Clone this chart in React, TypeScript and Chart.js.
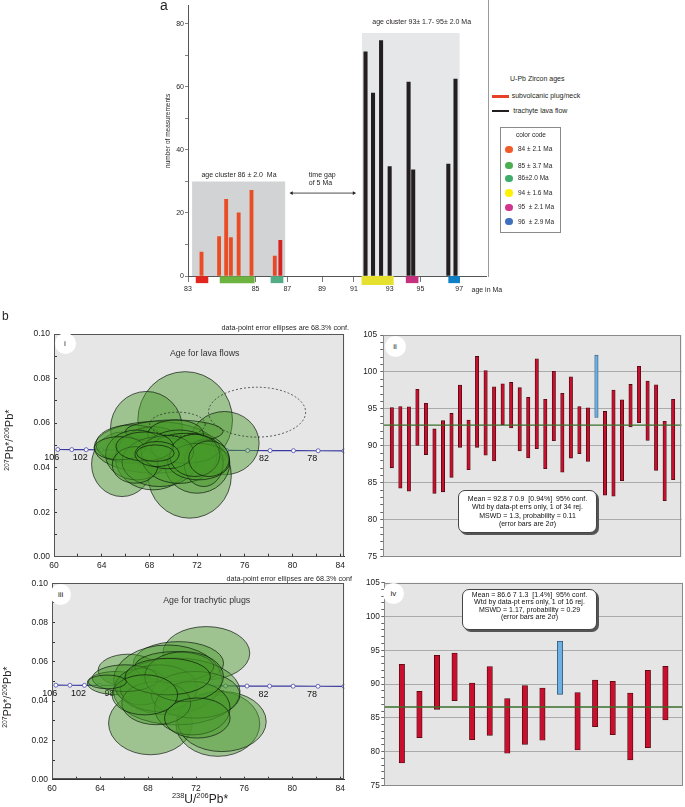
import React, { useEffect, useRef } from 'react';
import { Chart, registerables, LinearScale } from 'chart.js';

Chart.register(...registerables);
const FONT = '"Liberation Sans", Arial, Helvetica, sans-serif';
Chart.defaults.font.family = FONT;

// ================= panel a : histogram of U-Pb zircon ages =================
const A_TICKS = [83, 85, 87, 89, 91, 93, 95, 97];
// position of each printed tick along the drawn (non-uniform) axis, 0..1
const A_TICK_FRACTIONS = [0, 0.2267, 0.3333, 0.45, 0.5567, 0.6767, 0.78, 0.91];
const A_MIN = 83;
const A_MAX = 98.4;
const A_Y_TICKS = [0, 10, 20, 30, 40, 50, 60, 70, 80];

const PLUG_AGES = [83.4, 83.92, 84.13, 84.27, 84.5, 84.88, 86.21, 86.56];
const PLUG_COUNTS = [7.6, 12.5, 24.3, 12.2, 20.0, 27.2, 6.3, 11.3];
const LAVA_AGES = [91.65, 92.07, 92.52, 93.0, 94.23, 94.53, 96.44, 96.81];
const LAVA_COUNTS = [71.1, 58.0, 74.7, 34.7, 61.5, 33.7, 35.5, 62.5];

const CLUSTER_FROM = [83.12, 91.44];
const CLUSTER_TO = [86.88, 97.03];
const CLUSTER_TOP = [30, 77.1];

const CODE_FROM = [83.23, 83.94, 85.95, 91.43, 94.05, 96.44];
const CODE_TO = [83.6, 84.97, 86.75, 93.26, 94.87, 97.04];
const CODE_LABELS = ['84 \u00b1 2.1 Ma', '85 \u00b1 3.7 Ma', '86\u00b12.0 Ma', '94 \u00b1 1.6 Ma', '95  \u00b1 2.1 Ma', '96  \u00b1 2.9 Ma'];

const GAP_FROM = 87.25;
const GAP_TO = 91.0;
const GAP_LEVEL = 26.3;

// styles
const CODE_STRIP_COLORS = ['#e2261e', '#6cb33f', '#52ad84', '#e6e12e', '#c5307f', '#0e80c5'];
const CODE_DOT_COLORS = ['#f15a29', '#4cae4f', '#3eac6b', '#fff200', '#d3348d', '#3f6fbf'];
const PLUG_BAR_COLORS = ['#ea4d26', '#ea4d26', '#ea4d26', '#ea4d26', '#ea4d26', '#ea4d26', '#e8472a', '#d7231f'];

// ================= panels i & iii : Tera-Wasserburg concordia =================
const PB_X_TICKS = [60, 62, 64, 66, 68, 70, 72, 74, 76, 78, 80, 82, 84];
const PB_Y_TICKS = [0, 0.01, 0.02, 0.03, 0.04, 0.05, 0.06, 0.07, 0.08, 0.09, 0.1];
const CONC_AGES = [106, 104, 102, 100, 98, 96, 94, 92, 90, 88, 86, 84, 82, 80, 78, 76];
const CONC_X = [60.32, 61.49, 62.7, 63.96, 65.28, 66.65, 68.08, 69.57, 71.13, 72.75, 74.46, 76.24, 78.12, 80.08, 82.15, 84.32];
const CONC_Y = [0.04813, 0.04809, 0.04805, 0.04801, 0.04797, 0.04793, 0.04789, 0.04785, 0.04781, 0.04777, 0.04773, 0.04769, 0.04765, 0.04761, 0.04757, 0.04753];
const CONC_LABELED = [106, 102, 98, 94, 90, 86, 82, 78];

// i : lava flows (error ellipses: centre and semi-axes)
const I_EL_X = [71.0, 67.75, 74.3, 71.38, 65.7, 68.5, 66.52, 68.3, 72.0, 70.08, 70.2, 66.93, 68.85, 70.49, 72.55, 65.5, 71.04, 72.13, 66.8, 69.5, 71.8, 67.6, 73.0, 68.64, 68.5];
const I_EL_Y = [0.0614, 0.0577, 0.051, 0.0364, 0.0415, 0.0491, 0.0506, 0.0442, 0.042, 0.0562, 0.055, 0.0457, 0.0427, 0.0449, 0.042, 0.0487, 0.0487, 0.0427, 0.0412, 0.047, 0.0455, 0.0495, 0.044, 0.0461, 0.0465];
const I_EL_RX = [3.97, 3.01, 2.9, 3.49, 2.55, 5.14, 3.01, 3.15, 2.74, 4.1, 2.33, 2.6, 3.15, 3.15, 1.64, 2.12, 2.88, 2.6, 1.92, 2.2, 2.1, 2.4, 1.7, 1.85, 1.58];
const I_EL_RY = [0.0217, 0.0165, 0.0142, 0.0191, 0.0145, 0.0116, 0.0086, 0.0142, 0.0135, 0.0052, 0.0064, 0.0112, 0.0112, 0.012, 0.0105, 0.0052, 0.0067, 0.0082, 0.0082, 0.0075, 0.0095, 0.0065, 0.008, 0.0056, 0.0037];
const I_OPEN_X = [77.03, 70.35];
const I_OPEN_Y = [0.0649, 0.0595];
const I_OPEN_RX = [4.07, 2.33];
const I_OPEN_RY = [0.0112, 0.0054];

// iii : trachytic plugs
const III_EL_X = [72.85, 70.53, 66.33, 65.33, 68.2, 73.81, 74.15, 69.64, 70.39, 70.19, 67.45, 68.89, 71.96, 71.69, 68.68, 66.09, 71.0, 72.1, 69.64, 67.73, 64.6];
const III_EL_Y = [0.0644, 0.0593, 0.0557, 0.0492, 0.0288, 0.0284, 0.0296, 0.0508, 0.0449, 0.0576, 0.0474, 0.0466, 0.0432, 0.0364, 0.039, 0.0517, 0.0525, 0.0314, 0.0525, 0.0432, 0.0498];
const III_EL_RX = [3.62, 3.76, 2.49, 2.39, 3.49, 3.49, 3.69, 4.51, 5.27, 3.28, 2.19, 3.21, 3.69, 3.14, 2.87, 2.73, 3.28, 2.73, 3.55, 2.73, 1.6];
const III_EL_RY = [0.01356, 0.011, 0.0082, 0.0059, 0.0161, 0.0165, 0.0153, 0.0178, 0.017, 0.0076, 0.0093, 0.0119, 0.0119, 0.0136, 0.011, 0.0068, 0.0127, 0.0102, 0.0093, 0.0102, 0.0035];

// ================= panels ii & iv : weighted mean age plots =================
const AGE_Y_TICKS = [75, 76, 77, 78, 79, 80, 81, 82, 83, 84, 85, 86, 87, 88, 89, 90, 91, 92, 93, 94, 95, 96, 97, 98, 99, 100, 101, 102, 103, 104, 105];
const II_LOW = [87.03, 84.27, 83.87, 90.06, 88.82, 83.56, 83.78, 85.74, 89.8, 86.77, 89.8, 88.73, 87.97, 92.87, 92.43, 89.31, 88.37, 89.62, 86.9, 90.69, 86.45, 88.33, 88.95, 87.88, 93.85, 83.33, 83.2, 85.29, 92.56, 93.14, 90.73, 86.68, 82.57, 85.43];
const II_HIGH = [95.19, 95.33, 95.28, 97.64, 95.77, 92.29, 93.41, 94.39, 98.22, 93.5, 102.1, 100.19, 98.0, 98.4, 98.58, 97.87, 96.57, 101.79, 96.31, 100.1, 97.11, 99.34, 95.33, 95.15, 102.28, 94.66, 97.55, 96.22, 98.31, 100.76, 98.76, 98.27, 93.32, 96.31];
const II_REJECTED = 24;
const II_MEAN = 92.8;
const II_TEXT = ['Mean = 92.8 7 0.9  [0.94%]  95% conf.', 'Wtd by data-pt errs only, 1 of 34 rej.', 'MSWD = 1.3, probability = 0.11', '(error bars are 2\u03c3)'];

const IV_LOW = [78.31, 82.06, 86.25, 87.54, 81.76, 82.4, 79.74, 81.07, 81.67, 88.47, 80.23, 83.69, 82.5, 78.75, 80.58, 84.67];
const IV_HIGH = [92.91, 88.92, 94.25, 94.59, 90.15, 92.57, 87.83, 89.76, 89.41, 96.32, 88.72, 90.59, 90.4, 88.67, 92.03, 92.62];
const IV_REJECTED = 9;
const IV_MEAN = 86.6;
const IV_TEXT = ['Mean = 86.6 7 1.3  [1.4%]  95% conf.', 'Wtd by data-pt errs only, 1 of 16 rej.', 'MSWD = 1.17, probability = 0.29', '(error bars are 2\u03c3)'];

// ---------------- custom scale following the drawn age axis ----------------
const KNOT_V = [...A_TICKS, A_MAX];
const KNOT_F = [...A_TICK_FRACTIONS, 1];
function ageToFrac(v: number) {
  let i = 0;
  while (i < KNOT_V.length - 2 && v > KNOT_V[i + 1]) i++;
  return KNOT_F[i] + ((v - KNOT_V[i]) / (KNOT_V[i + 1] - KNOT_V[i])) * (KNOT_F[i + 1] - KNOT_F[i]);
}
function fracToAge(f: number) {
  let i = 0;
  while (i < KNOT_F.length - 2 && f > KNOT_F[i + 1]) i++;
  return KNOT_V[i] + ((f - KNOT_F[i]) / (KNOT_F[i + 1] - KNOT_F[i])) * (KNOT_V[i + 1] - KNOT_V[i]);
}
class CalibratedAgeScale extends (LinearScale as any) {
  static id = 'calibratedAge';
  static defaults = (LinearScale as any).defaults;
  getPixelForValue(value: number) {
    if (value === null || value === undefined || isNaN(value)) return NaN;
    return (this as any).getPixelForDecimal(ageToFrac(value));
  }
  getValueForPixel(pixel: number) {
    return fracToAge((this as any).getDecimalForPixel(pixel));
  }
}
Chart.register(CalibratedAgeScale as any);

// ---------------- plugins ----------------
function framePlugin(bg: string, stroke: string) {
  return {
    id: 'frame',
    beforeDraw(chart: any) {
      const { ctx, chartArea: a } = chart;
      ctx.save();
      ctx.fillStyle = bg;
      ctx.fillRect(a.left, a.top, a.right - a.left, a.bottom - a.top);
      ctx.restore();
    },
    afterDraw(chart: any) {
      const { ctx, chartArea: a } = chart;
      ctx.save();
      ctx.strokeStyle = stroke;
      ctx.lineWidth = 1;
      ctx.strokeRect(Math.round(a.left) + 0.5, Math.round(a.top) + 0.5, Math.round(a.right - a.left) - 1, Math.round(a.bottom - a.top) - 1);
      ctx.restore();
    },
  };
}

function ellipsePlugin(xs: number[], ys: number[], rxs: number[], rys: number[], ox: number[], oy: number[], orx: number[], ory: number[]) {
  return {
    id: 'ellipses',
    afterDatasetsDraw(chart: any) {
      const { ctx } = chart;
      const sx = chart.scales.x;
      const sy = chart.scales.y;
      ctx.save();
      const path = (x: number, y: number, rx: number, ry: number) => {
        const cx = sx.getPixelForValue(x);
        const cy = sy.getPixelForValue(y);
        const px = Math.abs(sx.getPixelForValue(x + rx) - cx);
        const py = Math.abs(sy.getPixelForValue(y + ry) - cy);
        ctx.beginPath();
        ctx.ellipse(cx, cy, px, py, 0, 0, Math.PI * 2);
      };
      xs.forEach((x, i) => {
        path(x, ys[i], rxs[i], rys[i]);
        ctx.fillStyle = 'rgba(72,152,42,0.45)';
        ctx.fill();
        ctx.strokeStyle = 'rgba(10,20,10,0.85)';
        ctx.lineWidth = 0.8;
        ctx.stroke();
      });
      ctx.setLineDash([2, 2]);
      ox.forEach((x, i) => {
        path(x, oy[i], orx[i], ory[i]);
        ctx.strokeStyle = '#222';
        ctx.lineWidth = 0.7;
        ctx.stroke();
      });
      ctx.restore();
    },
  };
}

const concordiaLabels = {
  id: 'concLabels',
  beforeDatasetsDraw(chart: any) {
    const { ctx } = chart;
    const sx = chart.scales.x;
    const sy = chart.scales.y;
    ctx.save();
    ctx.font = `9px ${FONT}`;
    ctx.fillStyle = '#111';
    ctx.textAlign = 'center';
    ctx.textBaseline = 'middle';
    CONC_AGES.forEach((age, i) => {
      if (!CONC_LABELED.includes(age)) return;
      ctx.fillText(String(age), sx.getPixelForValue(CONC_X[i]) - 6, sy.getPixelForValue(CONC_Y[i]) + 8);
    });
    ctx.restore();
  },
};

// ---------------- chart configs ----------------
function histogramConfig(): any {
  const boxes = CLUSTER_FROM.map((from, i) => ({
    type: 'line',
    data: [{ x: from, y: CLUSTER_TOP[i] }, { x: CLUSTER_TO[i], y: CLUSTER_TOP[i] }],
    fill: 'origin',
    backgroundColor: i === 0 ? '#d1d3d4' : '#e6e7e8',
    borderWidth: 0,
    pointRadius: 0,
    order: 10,
  }));
  const strips = CODE_FROM.map((from, i) => ({
    type: 'line',
    data: [{ x: from, y: i === 3 ? -1.4 : -1.15 }, { x: CODE_TO[i], y: i === 3 ? -1.4 : -1.15 }],
    borderColor: CODE_STRIP_COLORS[i],
    borderWidth: i === 3 ? 9 : 7,
    borderCapStyle: 'butt',
    pointRadius: 0,
    clip: false,
    order: 1,
  }));
  return {
    type: 'bar',
    data: {
      datasets: [
        ...boxes,
        {
          type: 'bar',
          data: PLUG_AGES.map((x, i) => ({ x, y: PLUG_COUNTS[i] })),
          backgroundColor: PLUG_BAR_COLORS,
          barThickness: 3.2,
          grouped: false,
          order: 5,
        },
        {
          type: 'bar',
          data: LAVA_AGES.map((x, i) => ({ x, y: LAVA_COUNTS[i] })),
          backgroundColor: '#231f20',
          barThickness: 3.4,
          grouped: false,
          order: 5,
        },
        ...strips,
        {
          type: 'line',
          data: [{ x: GAP_FROM, y: GAP_LEVEL }, { x: GAP_TO, y: GAP_LEVEL }],
          borderColor: '#231f20',
          borderWidth: 0.8,
          pointStyle: 'triangle',
          pointRadius: 2.2,
          pointRotation: [270, 90],
          pointBackgroundColor: '#231f20',
          pointBorderColor: '#231f20',
          pointBorderWidth: 0,
          order: 1,
        },
      ],
    },
    options: {
      responsive: false,
      animation: false,
      events: [],
      layout: { padding: { left: 18, top: 2, right: 2, bottom: 0 } },
      plugins: { legend: { display: false }, tooltip: { enabled: false } },
      scales: {
        x: {
          type: 'calibratedAge',
          min: A_MIN,
          max: A_MAX,
          offset: false,
          afterBuildTicks: (s: any) => { s.ticks = A_TICKS.map((v) => ({ value: v })); },
          afterFit: (s: any) => { s.height = 24; },
          grid: { drawOnChartArea: false, offset: false, tickLength: 6, color: '#555', tickWidth: 0.8 },
          border: { color: '#555', width: 1 },
          ticks: { font: { size: 7 }, color: '#231f20', padding: 3, autoSkip: false, maxRotation: 0, callback: (v: any) => String(v) },
        },
        y: {
          type: 'linear',
          min: 0,
          max: 85.9,
          afterBuildTicks: (s: any) => { s.ticks = A_Y_TICKS.map((v) => ({ value: v })); },
          afterFit: (s: any) => { s.width = 30; },
          grid: { drawOnChartArea: false, tickLength: 3, color: '#666', tickWidth: 0.8 },
          border: { color: '#555', width: 1 },
          ticks: { font: { size: 7 }, color: '#231f20', padding: 1, autoSkip: false, callback: (v: any) => (v % 20 === 0 ? String(v) : '') },
        },
      },
    },
    plugins: [],
  };
}

function concordiaConfig(kind: 'i' | 'iii'): any {
  const isI = kind === 'i';
  return {
    type: 'scatter',
    data: {
      datasets: [
        {
          type: 'line',
          data: CONC_X.map((x, i) => ({ x, y: CONC_Y[i] })),
          borderColor: '#3a3a9e',
          borderWidth: 1.2,
          pointRadius: 2,
          pointBackgroundColor: '#ffffff',
          pointBorderColor: '#4848b0',
          pointBorderWidth: 0.8,
          showLine: true,
        },
      ],
    },
    options: {
      responsive: false,
      animation: false,
      events: [],
      layout: { padding: isI ? { left: 14, top: 19, right: 3, bottom: 0 } : { left: 12, top: 13.3, right: 3, bottom: 0 } },
      plugins: { legend: { display: false }, tooltip: { enabled: false } },
      scales: {
        x: {
          type: 'linear',
          min: 60,
          max: 84.35,
          afterBuildTicks: (s: any) => { s.ticks = PB_X_TICKS.map((v) => ({ value: v })); },
          afterFit: (s: any) => { s.height = 20.3; },
          grid: { drawOnChartArea: false, tickLength: -3, color: '#333' },
          border: { color: '#333', width: 1 },
          ticks: { font: { size: 8.5 }, color: '#222', padding: 7, autoSkip: false, maxRotation: 0, callback: (v: any) => (v % 4 === 0 ? String(v) : '') },
        },
        y: {
          type: 'linear',
          min: 0,
          max: 0.1,
          afterBuildTicks: (s: any) => { s.ticks = PB_Y_TICKS.map((v) => ({ value: v })); },
          afterFit: (s: any) => { s.width = 40; },
          grid: { drawOnChartArea: false, tickLength: -3, color: '#333' },
          border: { color: '#333', width: 1 },
          ticks: { font: { size: 8.5 }, color: '#222', padding: 7, autoSkip: false, callback: (v: any, i: number) => (i % 2 === 0 ? Number(v).toFixed(2) : '') },
        },
      },
    },
    plugins: [
      framePlugin('#e6e6e6', '#555'),
      concordiaLabels,
      isI
        ? ellipsePlugin(I_EL_X, I_EL_Y, I_EL_RX, I_EL_RY, I_OPEN_X, I_OPEN_Y, I_OPEN_RX, I_OPEN_RY)
        : ellipsePlugin(III_EL_X, III_EL_Y, III_EL_RX, III_EL_RY, [], [], [], []),
    ],
  };
}

function meanConfig(kind: 'ii' | 'iv'): any {
  const isII = kind === 'ii';
  const low = isII ? II_LOW : IV_LOW;
  const high = isII ? II_HIGH : IV_HIGH;
  const rej = isII ? II_REJECTED : IV_REJECTED;
  const mean = isII ? II_MEAN : IV_MEAN;
  const xMax = low.length + 1;
  return {
    type: 'bar',
    data: {
      datasets: [
        {
          type: 'bar',
          data: low.map((lo, i) => ({ x: i + 1, y: [lo, high[i]] })),
          backgroundColor: (c: any) => (c.dataIndex === rej ? '#6db1e3' : '#c8102e'),
          borderColor: (c: any) => (c.dataIndex === rej ? '#2f5575' : '#4a0810'),
          borderWidth: 0.8,
          borderSkipped: false,
          barThickness: isII ? 3.4 : 5.4,
          grouped: false,
          order: 2,
        },
        {
          type: 'line',
          data: [{ x: 0, y: mean }, { x: xMax, y: mean }],
          borderColor: '#3a6e28',
          borderWidth: 1.4,
          pointRadius: 0,
          order: 1,
        },
      ],
    },
    options: {
      responsive: false,
      animation: false,
      events: [],
      layout: { padding: isII ? { left: 0, top: 20, right: 3.3, bottom: 5.7 } : { left: 0, top: 12.7, right: 2, bottom: 9.7 } },
      plugins: { legend: { display: false }, tooltip: { enabled: false } },
      scales: {
        x: { type: 'linear', min: 0, max: xMax, display: false, offset: false },
        y: {
          type: 'linear',
          min: 75,
          max: 105,
          afterBuildTicks: (s: any) => { s.ticks = AGE_Y_TICKS.map((v) => ({ value: v })); },
          afterFit: (s: any) => { s.width = isII ? 43.3 : 44.3; },
          grid: {
            drawOnChartArea: true,
            tickLength: 3,
            color: (c: any) => (c.tick && c.tick.value % 5 === 0 && c.tick.value > 75 && c.tick.value < 105 ? '#ababab' : 'rgba(0,0,0,0)'),
            tickColor: '#666',
            lineWidth: 1,
          },
          border: { color: '#777', width: 1 },
          ticks: { font: { size: 8.3 }, color: '#222', padding: isII ? 3.3 : 1.5, autoSkip: false, callback: (v: any) => (v % 5 === 0 ? String(v) : '') },
        },
      },
    },
    plugins: [framePlugin('#e5e5e5', '#8a8a8a')],
  };
}

// ---------------- React helpers ----------------
function ChartCanvas({ left, top, width, height, make }: { left: number; top: number; width: number; height: number; make: () => any }) {
  const ref = useRef<HTMLCanvasElement>(null);
  useEffect(() => {
    const chart = new Chart(ref.current as HTMLCanvasElement, make());
    return () => chart.destroy();
  }, []);
  return <canvas ref={ref} width={width} height={height} style={{ position: 'absolute', left, top, width, height }} />;
}

type TxtProps = { x: number; y: number; s: number; a?: 'l' | 'c' | 'r'; c?: string; rot?: boolean; children: React.ReactNode };
function Txt({ x, y, s, a = 'l', c = '#231f20', rot, children }: TxtProps) {
  const lh = s * 1.2;
  const tx = a === 'c' ? '-50%' : a === 'r' ? '-100%' : '0';
  return (
    <div
      style={{
        position: 'absolute',
        left: x,
        top: y - lh / 2,
        fontSize: s,
        lineHeight: `${lh}px`,
        color: c,
        whiteSpace: 'pre',
        transform: rot ? 'translateX(-50%) rotate(-90deg)' : `translateX(${tx})`,
        transformOrigin: 'center',
      }}
    >
      {children}
    </div>
  );
}
const Sup = ({ children }: { children: React.ReactNode }) => (
  <span style={{ fontSize: '0.62em', position: 'relative', top: '-0.6em' }}>{children}</span>
);
function Badge({ x, y, label }: { x: number; y: number; label: string }) {
  return (
    <div style={{ position: 'absolute', left: x - 10.5, top: y - 10.5, width: 21, height: 21, borderRadius: '50%', background: '#fff', fontSize: 8, lineHeight: '21px', textAlign: 'center', color: '#222' }}>
      {label}
    </div>
  );
}
function InfoBox({ left, top, width, height, lines, ys }: { left: number; top: number; width: number; height: number; lines: string[]; ys: number[] }) {
  return (
    <>
      <div style={{ position: 'absolute', left, top, width, height, background: '#fff', border: '1px solid #444', borderRadius: 7, boxShadow: '2px 2px 0 #555', boxSizing: 'border-box' }} />
      {lines.map((t, i) => (
        <Txt key={i} x={left + width / 2} y={ys[i]} s={7} a="c" c="#111">{t}</Txt>
      ))}
    </>
  );
}

const CODE_DOT_Y = [149.3, 165.7, 178.3, 193, 207.3, 221.7];

export default function App() {
  const pbTitle = (
    <span>
      <Sup>207</Sup>Pb*/<Sup>206</Sup>Pb*
    </span>
  );
  return (
    <div style={{ position: 'absolute', left: 0, top: 0, width: 685, height: 807, background: '#fff', overflow: 'hidden', fontFamily: FONT }}>
      <ChartCanvas left={140} top={0} width={350} height={300} make={histogramConfig} />
      <ChartCanvas left={0} top={315} width={352} height={262} make={() => concordiaConfig('i')} />
      <ChartCanvas left={340} top={315} width={345} height={250} make={() => meanConfig('ii')} />
      <ChartCanvas left={0} top={570} width={352} height={230} make={() => concordiaConfig('iii')} />
      <ChartCanvas left={340} top={570} width={345} height={225} make={() => meanConfig('iv')} />

      {/* ---- panel a annotations ---- */}
      <Txt x={160} y={5} s={14}>a</Txt>
      <Txt x={168} y={131} s={6.5} rot>number of measurements</Txt>
      <Txt x={239} y={175} s={7} a="c">age cluster 86 {'\u00b1'} 2.0  Ma</Txt>
      <Txt x={421.7} y={21.7} s={7} a="c">age cluster 93{'\u00b1'} 1.7- 95{'\u00b1'} 2.0 Ma</Txt>
      <Txt x={322.3} y={175.2} s={7} a="c">time gap</Txt>
      <Txt x={320.5} y={183.5} s={7} a="c">of 5 Ma</Txt>
      <Txt x={471.5} y={290} s={7}>age in Ma</Txt>
      <div style={{ position: 'absolute', left: 487.5, top: 0, width: 1.3, height: 277, background: '#9a9a9a' }} />

      <Txt x={510} y={79.5} s={7}>U-Pb Zircon ages</Txt>
      <div style={{ position: 'absolute', left: 491.7, top: 95.3, width: 17.6, height: 2.6, background: '#e8412a' }} />
      <Txt x={511.7} y={96} s={7}>subvolcanic plug/neck</Txt>
      <div style={{ position: 'absolute', left: 491.7, top: 109.8, width: 17.6, height: 2.6, background: '#231f20' }} />
      <Txt x={513.3} y={110.7} s={7}>trachyte lava flow</Txt>
      <div style={{ position: 'absolute', left: 500, top: 126.7, width: 60.7, height: 106.6, border: '1px solid #8a8a8a', boxSizing: 'border-box' }} />
      <Txt x={531} y={135} s={6.5} a="c">color code</Txt>
      {CODE_LABELS.map((t, i) => (
        <React.Fragment key={t}>
          <div style={{ position: 'absolute', left: 509 - 3.7, top: CODE_DOT_Y[i] - 3.7, width: 7.4, height: 7.4, borderRadius: '50%', background: CODE_DOT_COLORS[i] }} />
          <Txt x={518} y={CODE_DOT_Y[i]} s={6.5}>{t}</Txt>
        </React.Fragment>
      ))}

      {/* ---- panel b annotations ---- */}
      <Txt x={2} y={316} s={12}>b</Txt>

      <Txt x={349} y={328.3} s={7.2} a="r">data-point error ellipses are 68.3% conf.</Txt>
      <Badge x={65} y={343} label="i" />
      <Txt x={204.7} y={353.3} s={8.8} a="c" c="#333">Age for lava flows</Txt>
      <Txt x={10} y={440} s={11} rot>{pbTitle}</Txt>

      <Badge x={395} y={346.7} label="ii" />
      <InfoBox left={458} top={490} width={139} height={43} lines={II_TEXT} ys={[499, 507.3, 515.7, 524]} />

      <Txt x={352} y={579} s={7.2} a="r">data-point error ellipses are 68.3% conf</Txt>
      <Badge x={60.7} y={594.3} label="iii" />
      <Txt x={206.7} y={600.7} s={8.8} a="c" c="#333">Age for trachytic plugs</Txt>
      <Txt x={8.3} y={696.7} s={11} rot>{pbTitle}</Txt>
      <Txt x={200} y={799} s={12} a="c">
        <Sup>238</Sup>U/<Sup>206</Sup>Pb*
      </Txt>

      <Badge x={393.3} y={593.3} label="iv" />
      <InfoBox left={462.3} top={589.3} width={134.4} height={40.7} lines={IV_TEXT} ys={[595, 602.3, 610, 617.3]} />
    </div>
  );
}
